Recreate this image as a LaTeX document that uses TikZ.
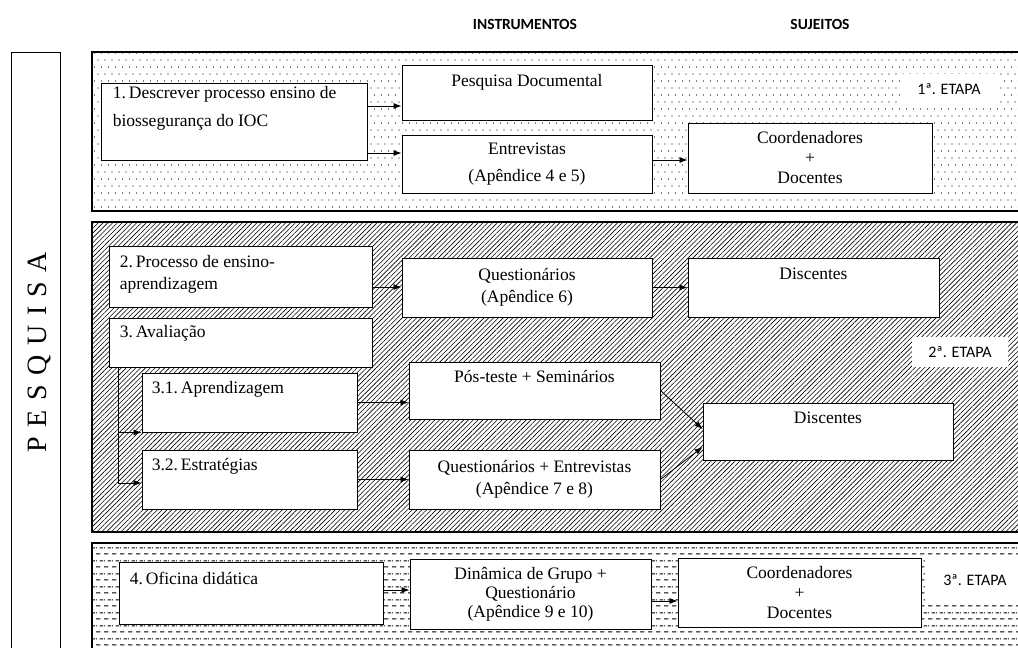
\documentclass[tikz,border=0pt]{standalone}
\usepackage{fontspec}
\setmainfont{Liberation Serif}
\newfontfamily\calibri{Carlito}
\usetikzlibrary{arrows.meta, patterns.meta}
% fill patterns of the three stages
\tikzdeclarepattern{name=sparsedots, type=uncolored,
  bottom left={(-1pt,-1pt)}, top right={(8pt,15pt)}, tile size={(7pt,14pt)},
  code={\fill (0pt,0pt) circle (0.7pt); \fill (3.5pt,7pt) circle (0.7pt);}}
\tikzdeclarepattern{name=dashrows, type=uncolored,
  bottom left={(0pt,0pt)}, top right={(8pt,13pt)}, tile size={(8pt,13pt)},
  code={\draw[line width=1.1pt] (0pt,3.25pt) -- (5pt,3.25pt);
        \draw[line width=1.1pt] (4pt,9.75pt) -- (8pt,9.75pt);
        \draw[line width=1.1pt] (0pt,9.75pt) -- (1pt,9.75pt);}}
\tikzset{
  box/.style={draw, fill=white, line width=0.9pt, inner sep=0pt, align=center, font=\fontsize{17.5}{22}\selectfont},
  sz/.style 2 args={minimum width=#1pt, minimum height=#2pt},
  txt/.style={inner sep=0pt, font=\fontsize{17.5}{22}\selectfont},
  arr/.style={-{Latex[length=8pt,width=6pt]}, line width=0.8pt},
  band/.style={draw, line width=1.1pt},
  hdr/.style={font=\calibri\bfseries\fontsize{15.5}{18}\selectfont},
  etq/.style={fill=white, inner sep=0pt, font=\calibri\fontsize{16}{18}\selectfont},
}
\begin{document}
\begin{tikzpicture}[x=1pt, y=-1pt]
  \useasboundingbox (0,0) rectangle (1018,648);
  \clip (0,0) rectangle (1018,648);
  % column headers
  \node[hdr] (hinst) at (525,24) {INSTRUMENTOS};
  \node[hdr] (hsuj) at (820,24) {SUJEITOS};
  % side bar
  \draw[line width=0.9pt] (11,52) rectangle (60,670);
  \node[rotate=90, inner sep=0pt, font=\fontsize{28}{28}\selectfont] (pq) at (39,352) {\spaceskip=9.5pt P E S Q U I S A};
  % stage bands
  \draw[band, pattern=sparsedots] (92,52) rectangle (1040,211);
  \draw[band, pattern={Lines[angle=45, distance=3.4pt, line width=0.6pt]}] (92,222) rectangle (1040,532);
  \draw[band, pattern=dashrows] (92,543) rectangle (1040,670);
  \node[etq, minimum width=97pt, minimum height=30pt] (s1) at (949,89) {1ª. ETAPA};
  \node[etq, minimum width=96pt, minimum height=30pt] (s2) at (960,352) {2ª. ETAPA};
  \node[etq, minimum width=100pt, minimum height=44pt] (s3) at (975,580) {3ª. ETAPA};

  % 1a etapa
  \node[box, sz={266}{77}] (d1) at (234,121.5) {};
  \node[txt, anchor=north west, align=left, font=\fontsize{17.5}{28}\selectfont] (d1t) at ([shift={(12,4)}]d1.north west) {1.\hspace{3pt}Descrever processo ensino de\\biossegurança do IOC};
  \node[box, sz={250}{55}] (pd) at (527,92.5) {};
  \node[txt, anchor=north] (pdt) at ([shift={(0,10)}]pd.north) {Pesquisa Documental};
  \node[box, sz={250}{58}, font=\fontsize{17.5}{27}\selectfont] (en) at (527,164) {Entrevistas\\(Apêndice 4 e 5)};
  \node[box, sz={244}{70}, font=\fontsize{17.5}{20}\selectfont] (c1) at (810,158) {Coordenadores\\+\\Docentes};
  \coordinate (a1) at ([yshift=15.5pt]d1.east);
  \coordinate (a2) at ([yshift=-31.5pt]d1.east);
  \coordinate (a3) at ([yshift=4pt]en.east);
  \draw[arr] (a1) -- (a1 -| pd.west);
  \draw[arr] (a2) -- (a2 -| en.west);
  \draw[arr] (a3) -- (a3 -| c1.west);

  % 2a etapa
  \node[box, sz={263}{61}] (b2) at (240.5,276.5) {};
  \node[txt, anchor=north west, align=left] (b2t) at ([shift={(11,10)}]b2.north west) {2.\hspace{3pt}Processo de ensino-\\aprendizagem};
  \node[box, sz={263}{49}] (b3) at (240.5,342.5) {};
  \node[txt, anchor=north west] (b3t) at ([shift={(11,8)}]b3.north west) {3.\hspace{3pt}Avaliação};
  \node[box, sz={215}{59}] (b31) at (249.5,402.5) {};
  \node[txt, anchor=north west] (b31t) at ([shift={(10,9)}]b31.north west) {3.1.\hspace{3pt}Aprendizagem};
  \node[box, sz={215}{59}] (b32) at (249.5,479.5) {};
  \node[txt, anchor=north west] (b32t) at ([shift={(10,9)}]b32.north west) {3.2.\hspace{3pt}Estratégias};
  \node[box, sz={250}{59}] (q6) at (527,287.5) {Questionários\\(Apêndice 6)};
  \node[box, sz={251}{59}] (ds1) at (813.5,287.5) {};
  \node[txt, anchor=north] (ds1t) at ([shift={(0,10)}]ds1.north) {Discentes};
  \node[box, sz={251}{57}] (pt) at (534.5,390.5) {};
  \node[txt, anchor=north] (ptt) at ([shift={(0,9)}]pt.north) {Pós-teste + Seminários};
  \node[box, sz={251}{59}] (qe) at (534.5,479.5) {Questionários + Entrevistas\\(Apêndice 7 e 8)};
  \node[box, sz={250}{57}] (dl) at (828,431.5) {};
  \node[txt, anchor=north] (dlt) at ([shift={(0,9)}]dl.north) {Discentes};
  \coordinate (a4) at ([yshift=-10.5pt]b2.east);
  \coordinate (tr) at ([xshift=10pt]b3.south west);
  \draw[arr] (a4) -- (a4 -| q6.west);
  \draw[arr] (q6) -- (ds1);
  \draw[arr] (b31.east) -- (b31.east -| pt.west);
  \draw[arr] (b32.east) -- (b32.east -| qe.west);
  \draw[arr] (pt.east) -- ([yshift=2.5pt]dl.west);
  \draw[arr] (qe.east) -- ([yshift=-15.5pt]dl.west);
  \draw[arr] (tr) |- (b31.south west);
  \draw[arr] (tr) |- ([yshift=-3.5pt]b32.west);

  % 3a etapa
  \node[box, sz={264}{62}] (b4) at (251,593) {};
  \node[txt, anchor=north west] (b4t) at ([shift={(11,10)}]b4.north west) {4.\hspace{3pt}Oficina didática};
  \node[box, sz={241}{70}, font=\fontsize{17.5}{19}\selectfont] (dn) at (530.5,594) {Dinâmica de Grupo +\\Questionário\\(Apêndice 9 e 10)};
  \node[box, sz={243}{69}, font=\fontsize{17.5}{20}\selectfont] (c2) at (799.5,592.5) {Coordenadores\\+\\Docentes};
  \coordinate (a5) at ([yshift=3pt]b4.east);
  \coordinate (a6) at ([yshift=-7pt]dn.east);
  \draw[arr] (a5) -- (a5 -| dn.west);
  \draw[arr] (a6) -- (a6 -| c2.west);
\end{tikzpicture}
\end{document}
